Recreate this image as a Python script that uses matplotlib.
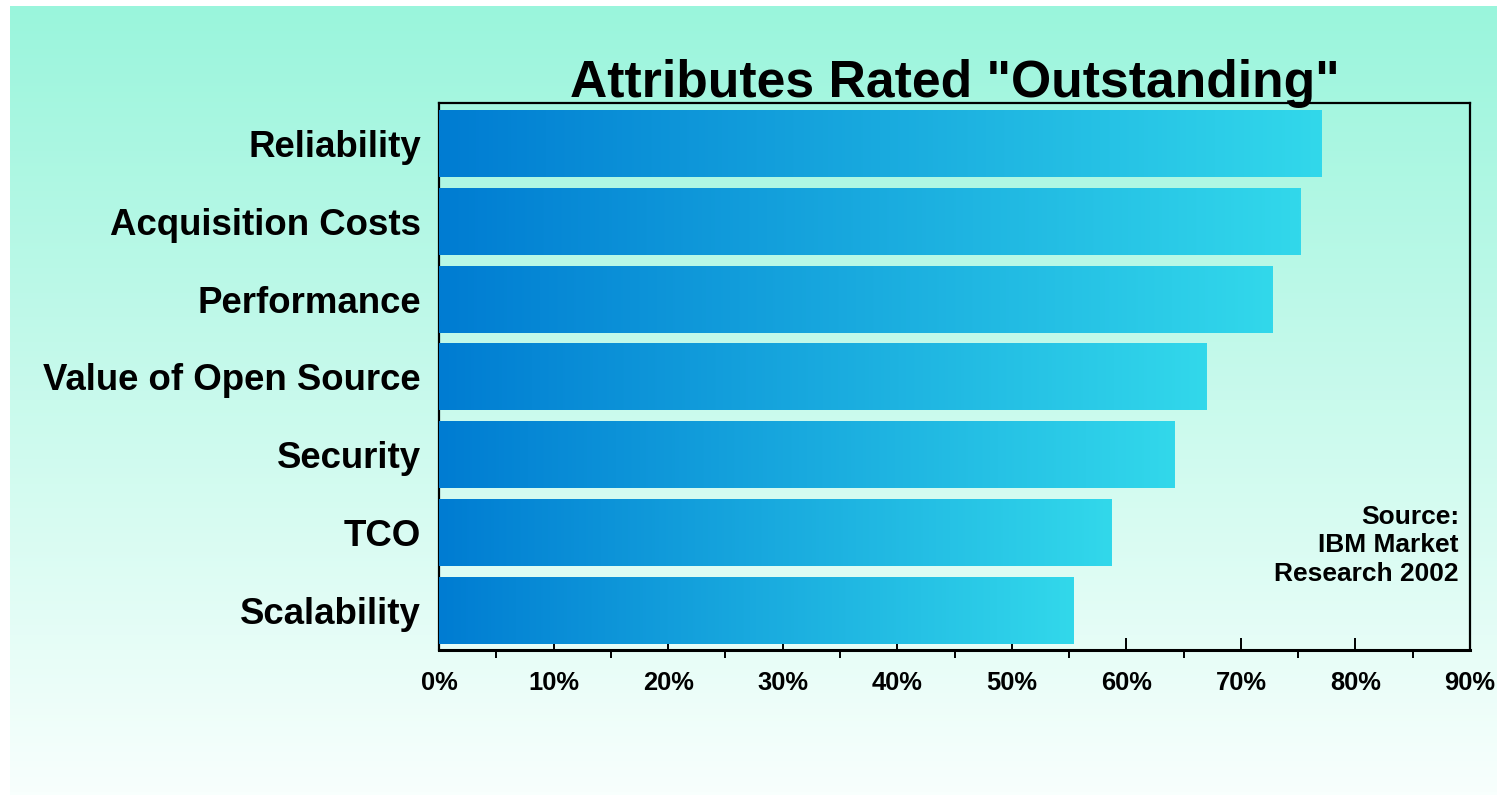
import numpy as np
import matplotlib
matplotlib.use("Agg")
import matplotlib.pyplot as plt
from matplotlib.ticker import MultipleLocator, FuncFormatter

categories = ["Reliability", "Acquisition Costs", "Performance",
              "Value of Open Source", "Security", "TCO", "Scalability"]
values = [77.0, 75.2, 72.8, 67.0, 64.2, 58.7, 55.4]
title = 'Attributes Rated "Outstanding"'
source_text = "Source:\nIBM Market\nResearch 2002"

plt.rcParams['font.family'] = ['Liberation Sans', 'DejaVu Sans']
plt.rcParams['font.weight'] = 'bold'

W, H = 1497, 795
fig = plt.figure(figsize=(W / 100, H / 100), dpi=100)
fig.patch.set_facecolor('white')

# background gradient
bg = fig.add_axes([10 / W, 0, 1 - 10 / W, (H - 6) / H])
bg.set_axis_off()
top_c = np.array([154, 245, 220]) / 255
bot_c = np.array([248, 255, 253]) / 255
t = np.linspace(0, 1, 256)[:, None]
grad = top_c[None, :] * (1 - t) + bot_c[None, :] * t
bg.imshow(grad[:, None, :].repeat(2, axis=1), aspect='auto', extent=(0, 1, 0, 1))
bg.set_xlim(0, 1)
bg.set_ylim(0, 1)

ax = fig.add_axes([439 / W, (H - 650) / H, (1470 - 439) / W, (650 - 103) / H])
ax.patch.set_alpha(0)

y = np.arange(len(categories))
h = 0.86
bars = ax.barh(y, values, height=h, color='none', edgecolor='none', zorder=2)

left_c = np.array([0, 124, 210]) / 255
right_c = np.array([50, 216, 235]) / 255
s = np.linspace(0, 1, 256)[None, :, None]
bar_grad = left_c[None, None, :] * (1 - s) + right_c[None, None, :] * s
for yi, v in zip(y, values):
    ax.imshow(bar_grad, aspect='auto', extent=(0, v, yi + h / 2, yi - h / 2),
              zorder=2, interpolation='bilinear')

ax.set_xlim(0, 90)
ax.set_ylim(len(categories) - 0.49, -0.52)
ax.set_yticks(y)
ax.set_yticklabels(categories, fontsize=26.4, fontweight='bold')
ax.tick_params(axis='y', length=0, pad=13)

ax.xaxis.set_major_locator(MultipleLocator(10))
ax.xaxis.set_minor_locator(MultipleLocator(5))
ax.xaxis.set_major_formatter(FuncFormatter(lambda v, p: f"{int(round(v))}%"))
ax.tick_params(axis='x', which='major', direction='in', length=8.6, width=1.4,
               labelsize=18.4, pad=15)
ax.tick_params(axis='x', which='minor', direction='out', length=5.8, width=1.4)
for lab in ax.get_xticklabels():
    lab.set_fontweight('bold')

for sp in ax.spines.values():
    sp.set_linewidth(1.6)
    sp.set_zorder(1)
ax.spines['bottom'].set_linewidth(2.2)
ax.spines['bottom'].set_zorder(3)

ax.text(0.5, 1.0 + 6 / 547, title, transform=ax.transAxes, ha='center',
        va='baseline', fontsize=37.2, fontweight='bold')

ax.text(0.9893, 0.117, source_text, transform=ax.transAxes, ha='right',
        va='bottom', multialignment='right', fontsize=19, fontweight='bold',
        linespacing=1.24)

fig.savefig("out.png", dpi=100)
